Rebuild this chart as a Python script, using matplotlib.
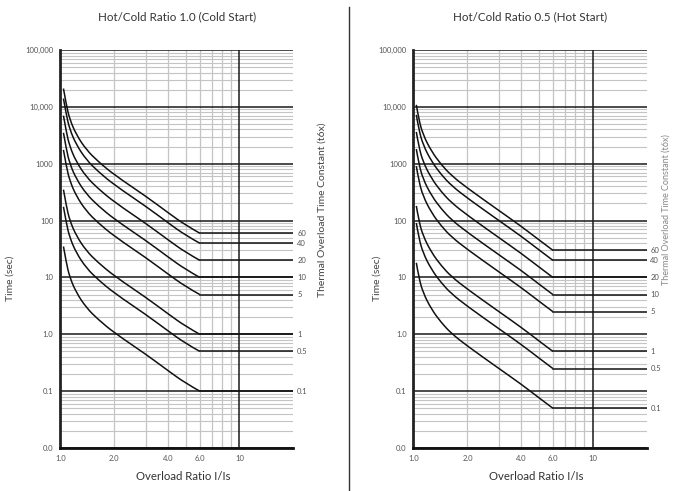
import matplotlib
matplotlib.use("Agg")
import matplotlib.pyplot as plt
from matplotlib.lines import Line2D
from matplotlib.path import Path
from matplotlib.patches import PathPatch
from matplotlib.ticker import FixedLocator, NullLocator
import numpy as np

plt.rcParams['font.family'] = ['Lato', 'DejaVu Sans']

# curve labels (thermal overload time constant)
tau_labels = ["60", "40", "20", "10", "5", "1", "0.5", "0.1"]

# cold start curves (hot/cold ratio 1.0)
cold_I = [1.04, 1.079, 1.127, 1.227, 1.395, 1.622, 2.0, 3.0, 4.0, 5.0, 6.0, 20.0]
cold_t = [
    [21000, 10860, 6060, 3240, 1764, 1098, 636, 268, 137, 83, 60, 60],
    [14000, 7240, 4040, 2160, 1176, 732, 424, 178, 91, 55, 40, 40],
    [7000, 3620, 2020, 1080, 588, 366, 212, 89, 45.6, 27.6, 20, 20],
    [3500, 1810, 1010, 540, 294, 183, 106, 44.6, 22.8, 13.8, 10, 10],
    [1750, 905, 505, 270, 147, 91.5, 53, 22.3, 11.4, 6.9, 5, 5],
    [350, 181, 101, 54, 29.4, 18.3, 10.6, 4.46, 2.28, 1.38, 1.0, 1.0],
    [175, 90.5, 50.5, 27, 14.7, 9.15, 5.3, 2.23, 1.14, 0.69, 0.5, 0.5],
    [35, 18.1, 10.1, 5.4, 2.94, 1.83, 1.06, 0.446, 0.228, 0.138, 0.1, 0.1],
]

# hot start curves (hot/cold ratio 0.5)
hot_I = [1.037, 1.07, 1.13, 1.26, 1.43, 1.63, 2.0, 3.0, 4.0, 5.0, 6.0, 20.0]
hot_t = [
    [10860, 6060, 3240, 1650, 960, 618, 372, 150, 79, 46.2, 30, 30],
    [7240, 4040, 2160, 1100, 640, 412, 248, 100, 52.8, 30.8, 20, 20],
    [3620, 2020, 1080, 550, 320, 206, 124, 50, 26.4, 15.4, 10, 10],
    [1810, 1010, 540, 275, 160, 103, 62, 25, 13.2, 7.7, 5, 5],
    [905, 505, 270, 137.5, 80, 51.5, 31, 12.5, 6.6, 3.85, 2.5, 2.5],
    [181, 101, 54, 27.5, 16, 10.3, 6.2, 2.5, 1.32, 0.77, 0.5, 0.5],
    [90.5, 50.5, 27, 13.75, 8, 5.15, 3.1, 1.25, 0.66, 0.385, 0.25, 0.25],
    [18.1, 10.1, 5.4, 2.75, 1.6, 1.03, 0.62, 0.25, 0.132, 0.077, 0.05, 0.05],
]

y_ticks = [0.01, 0.1, 1, 10, 100, 1000, 10000, 100000]
y_tick_labels = ["0.0", "0.1", "1.0", "10", "100", "1000", "10,000", "100,000"]
x_ticks = [1, 2, 4, 6, 10]
x_tick_labels = ["1.0", "2.0", "4.0", "6.0", "10"]

W, H = 674, 491
fig = plt.figure(figsize=(W / 100, H / 100), dpi=100)


def smooth_path(xs, ys):
    # quadratic bezier through the read points (midpoints taken in log space)
    verts = [(xs[0], ys[0])]
    codes = [Path.MOVETO]
    n = len(xs)
    for i in range(1, n - 1):
        if i < n - 2:
            ex = np.sqrt(xs[i] * xs[i + 1])
            ey = np.sqrt(ys[i] * ys[i + 1])
        else:
            ex, ey = xs[i + 1], ys[i + 1]
        verts += [(xs[i], ys[i]), (ex, ey)]
        codes += [Path.CURVE3, Path.CURVE3]
    return Path(verts, codes)


def panel(left_px, title, I, curves, ylab_px):
    ax = fig.add_axes([left_px / W, 43 / H, 233 / W, 398 / H])
    ax.set_xscale('log')
    ax.set_yscale('log')
    ax.set_xlim(1, 20)
    ax.set_ylim(0.01, 100000)

    # grid
    for d in range(-2, 5):
        for m in range(2, 10):
            ax.axhline(m * 10.0 ** d, color='#c4c4c4', lw=0.8, zorder=1)
    for d in range(-2, 6):
        ax.axhline(10.0 ** d, color='#1a1a1a', lw=1.1, zorder=2)
    for v in range(2, 10):
        ax.axvline(v, color='#c4c4c4', lw=0.9, zorder=1)
    ax.axvline(10, color='#1a1a1a', lw=1.1, zorder=2)

    k = I.index(6.0)
    for vals, lab in zip(curves, tau_labels):
        ax.add_patch(PathPatch(smooth_path(I[:k + 1], vals[:k + 1]), fill=False,
                               edgecolor='#111111', lw=1.1, zorder=3))
        ax.plot(I[k:], vals[k:], color='#111111', lw=1.1, zorder=3)
        ax.text(21, vals[-1], lab, fontsize=5.5, color='#555555',
                va='center', ha='left', clip_on=False)

    for s in ['top', 'right']:
        ax.spines[s].set_visible(False)
    ax.spines['left'].set_linewidth(2)
    ax.spines['left'].set_color('#222222')
    ax.spines['bottom'].set_linewidth(2)
    ax.spines['bottom'].set_color('#111111')

    ax.yaxis.set_major_locator(FixedLocator(y_ticks))
    ax.set_yticklabels(y_tick_labels)
    ax.yaxis.set_minor_locator(NullLocator())
    ax.xaxis.set_major_locator(FixedLocator(x_ticks))
    ax.set_xticklabels(x_tick_labels)
    ax.xaxis.set_minor_locator(NullLocator())
    ax.tick_params(length=0, labelsize=5.5, labelcolor='#555555', pad=5)

    cx = left_px + 233 / 2
    fig.text(cx / W, 1 - 17 / H, title, ha='center', va='center',
             fontsize=8.4, color='#333333')
    fig.text((cx + 6) / W, 1 - 477 / H, "Overload Ratio I/Is", ha='center',
             va='center', fontsize=8.2, color='#333333')
    fig.text(ylab_px / W, 1 - 278 / H, "Time (sec)", ha='center',
             va='center', rotation=90, fontsize=7.5, color='#444444')
    return ax


panel(60.4, "Hot/Cold Ratio 1.0 (Cold Start)", cold_I, cold_t, 10)
panel(413.5, "Hot/Cold Ratio 0.5 (Hot Start)", hot_I, hot_t, 377)

fig.text(322 / W, 1 - 210 / H, "Thermal Overload Time Constant (t6x)",
         ha='center', va='center', rotation=90, fontsize=7.5, color='#444444')
fig.text(666 / W, 1 - 210 / H, "Thermal Overload Time Constant (t6x)",
         ha='center', va='center', rotation=90, fontsize=6.5, color='#888888')

fig.add_artist(Line2D([349 / W, 349 / W], [0, 1 - 7 / H], color='#333333', lw=1))

fig.savefig("out.png", dpi=100)
